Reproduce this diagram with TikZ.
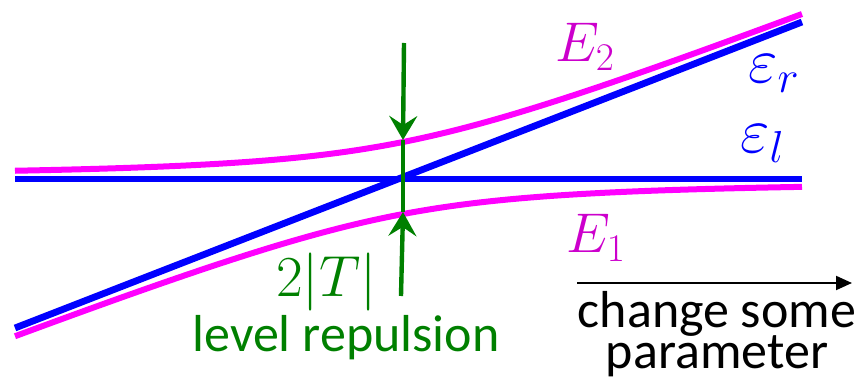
\RequirePackage{fix-cm}
\documentclass[tikz,border=0pt]{standalone}
\usepackage{amsmath}
\usepackage{fontspec}
\setmainfont{Carlito}
\usetikzlibrary{arrows.meta,positioning}
\definecolor{LevBlue}{RGB}{0,0,255}
\definecolor{LevPink}{RGB}{255,0,255}
\definecolor{LabPink}{RGB}{204,0,204}
\definecolor{RepGreen}{RGB}{0,128,0}

\begin{document}
\begin{tikzpicture}[
    x=0.5pt, y=-0.5pt,
    declare function={er(\t)=328-0.389*(\t-15); hw(\t)=sqrt(((er(\t)-179)/2)^2+36^2);},
    bare/.style={line width=3.4pt, LevBlue},
    mixed/.style={line width=3pt, LevPink},
    gap/.style={-{Stealth[length=12pt,width=14pt,inset=4.5pt]}, line width=2.2pt, RepGreen},
    lab/.style={inner sep=0pt, anchor=base west},
    txt/.style={inner sep=0pt, anchor=base, font=\fontsize{26}{26}\selectfont}
  ]
    \useasboundingbox (0,0) rectangle (864,379);
    % coupled levels
    \draw[mixed] plot[domain=15:802, samples=120, smooth] (\x, {(179+er(\x))/2-hw(\x)});
    \draw[mixed] plot[domain=15:802, samples=120, smooth] (\x, {(179+er(\x))/2+hw(\x)});
    % bare levels
    \coordinate (l0) at (15,179);
    \coordinate (l1) at (802,179);
    \coordinate (r0) at (15,328);
    \coordinate (r1) at (802,22);
    \draw[bare] (l0)--(l1);
    \draw[bare] (r0)--(r1);
    % gap
    \coordinate (top) at (404,43);
    \coordinate (up) at (403,140);
    \coordinate (dn) at (403,212);
    \coordinate (bot) at (401,296);
    \draw[gap] (top)--(up);
    \draw[gap] (bot)--(dn);
    \draw[line width=2.2pt, RepGreen] (up)--(dn);
    \node[lab, text=LabPink, font=\fontsize{28}{28}\selectfont] (e2) at (555,62) {$E_2$};
    \node[lab, text=LabPink, font=\fontsize{28}{28}\selectfont] (e1) at (566,253) {$E_1$};
    \node[lab, text=LevBlue, font=\fontsize{32}{32}\selectfont] (epr) at (748,83) {$\varepsilon_r$};
    \node[lab, text=LevBlue, font=\fontsize{32}{32}\selectfont] (epl) at (740,153) {$\varepsilon_l$};
    \node[lab, text=RepGreen, font=\fontsize{29}{29}\selectfont] (gaplab) at (276,297) {$2|T|$};
    \node[txt, text=RepGreen] (rep) at (346,352) {level repulsion};
    % parameter axis
    \coordinate (pa) at (577,283);
    \coordinate (pb) at (852,283);
    \draw[-{Triangle[length=8pt,width=7pt]}, line width=1pt] (pa)--(pb);
    \node[txt] (chg) at (717,328) {change some};
    \node[txt] (par) at ([yshift=-20.5pt]chg.base) {parameter};
  \end{tikzpicture}
\end{document}
